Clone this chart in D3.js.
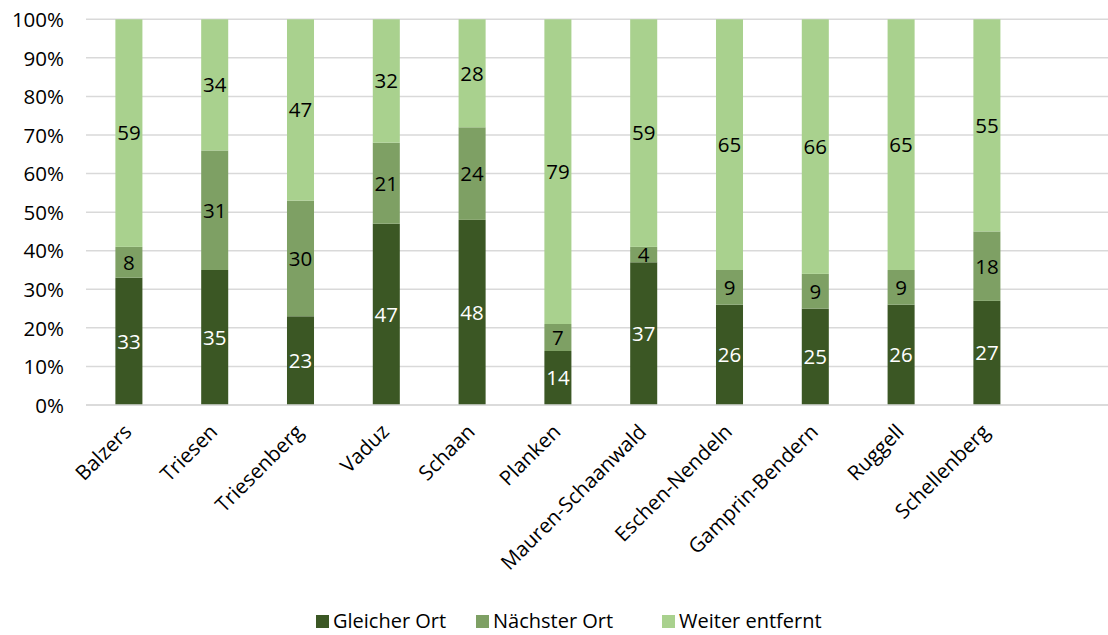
<!DOCTYPE html>
<html><head><meta charset="utf-8">
<script src="https://cdn.jsdelivr.net/npm/d3@7"></script>
<style>body{margin:0;background:#fff}svg{display:block}text{font-family:"Open Sans","Noto Sans",sans-serif}</style>
</head><body><svg id="c" width="1108" height="635"></svg>
<script>
const categories = ["Balzers","Triesen","Triesenberg","Vaduz","Schaan","Planken","Mauren-Schaanwald","Eschen-Nendeln","Gamprin-Bendern","Ruggell","Schellenberg"];
const gleicherOrt = [33,35,23,47,48,14,37,26,25,26,27];
const naechsterOrt = [8,31,30,21,24,7,4,9,9,9,18];
const weiterEntfernt = [59,34,47,32,28,79,59,65,66,65,55];
const seriesNames = ["Gleicher Ort","Nächster Ort","Weiter entfernt"];
const colors = ["#3b5724","#7ea064","#a9d18e"];
const labelColors = ["#ffffff","#000000","#000000"];
const yTicks = [0,10,20,30,40,50,60,70,80,90,100];
const FS = 20.5;

const svg = d3.select("#c");
const x = d3.scaleBand().domain([...categories, ""]).range([86, 1115.6]).paddingInner(0.685).paddingOuter(0.3425);
const y = d3.scaleLinear().domain([0,100]).range([405,19.3]);

// gridlines
svg.append("g").selectAll("line").data(yTicks).join("line")
  .attr("x1",86).attr("x2",1108).attr("y1",d=>y(d)).attr("y2",d=>y(d))
  .attr("stroke","#d9d9d9").attr("stroke-width",1.5);

// y axis labels
const yAxis = d3.axisLeft(y).tickValues(yTicks).tickFormat(d=>d+"%").tickSize(0).tickPadding(0);
const ya = svg.append("g").attr("transform","translate(64,0)").call(yAxis);
ya.select(".domain").remove();
ya.selectAll("text").attr("font-size",FS).attr("fill","#000").attr("dy","0.35em").attr("font-family",'"Open Sans",sans-serif');

const stackData = categories.map((c,i)=>({cat:c, s0:gleicherOrt[i], s1:naechsterOrt[i], s2:weiterEntfernt[i]}));
const stack = d3.stack().keys(["s0","s1","s2"])(stackData);

const g = svg.append("g");
stack.forEach((layer,k)=>{
  g.append("g").selectAll("rect").data(layer).join("rect")
    .attr("x",d=>x(d.data.cat)).attr("width",x.bandwidth())
    .attr("y",d=>y(d[1])).attr("height",d=>y(d[0])-y(d[1]))
    .attr("fill",colors[k]);
  g.append("g").selectAll("text").data(layer).join("text")
    .attr("x",d=>x(d.data.cat)+x.bandwidth()/2)
    .attr("y",d=>y((d[0]+d[1])/2)).attr("dy","0.36em")
    .attr("text-anchor","middle").attr("font-size",FS).attr("fill",labelColors[k])
    .text(d=>d[1]-d[0]);
});

// baseline
svg.append("line").attr("x1",86).attr("x2",1108).attr("y1",y(0)).attr("y2",y(0)).attr("stroke","#d9d9d9").attr("stroke-width",1.5);

// x labels
svg.append("g").selectAll("text").data(categories).join("text")
  .attr("transform",d=>`translate(${x(d)+x.bandwidth()/2+4},${433}) rotate(-45)`)
  .attr("text-anchor","end").attr("font-size",FS).attr("fill","#000")
  .text(d=>d);

// legend
const legendX = [316,476,662];
const lg = svg.append("g");
seriesNames.forEach((n,i)=>{
  lg.append("rect").attr("x",legendX[i]).attr("y",615).attr("width",13).attr("height",13).attr("fill",colors[i]);
  lg.append("text").attr("x",legendX[i]+17).attr("y",621).attr("dy","0.35em").attr("font-size",20).attr("fill","#000").text(n);
});
</script></body></html>
